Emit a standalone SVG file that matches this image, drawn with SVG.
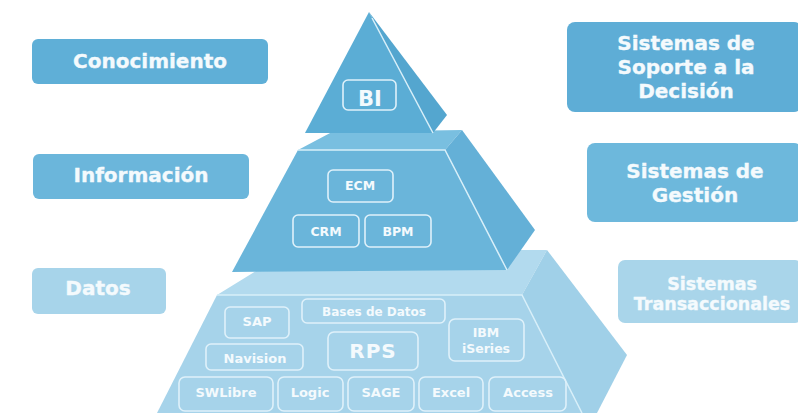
<svg xmlns="http://www.w3.org/2000/svg" width="798" height="413" viewBox="0 0 798 413">
<style>
.lbl{font-family:"DejaVu Sans",Verdana,sans-serif;font-weight:bold;fill:#f4fafd;stroke:#f4fafd;stroke-width:0.35;text-anchor:middle}
.ib{fill:none;stroke:#dff1fa;stroke-width:1.6}
.it{font-family:"DejaVu Sans",Verdana,sans-serif;font-weight:bold;fill:#f4fafd;text-anchor:middle}
.edge{fill:none;stroke:#d8eff9;stroke-width:1.5}
</style>
<rect width="798" height="413" fill="#ffffff"/>
<g id="label-conocimiento"><rect x="32" y="39" width="236" height="45" rx="6" fill="#5fafd7"/><text class="lbl" x="150" y="68" font-size="20">Conocimiento</text></g>
<g id="label-informacion"><rect x="33" y="154" width="216" height="45" rx="6" fill="#6bb6db"/><text class="lbl" x="141" y="182" font-size="20">Información</text></g>
<g id="label-datos"><rect x="32" y="268" width="134" height="46" rx="6" fill="#a7d4ea"/><text class="lbl" x="98" y="295" font-size="20">Datos</text></g>
<g id="label-dss"><rect x="567" y="22" width="235" height="90" rx="8" fill="#5eadd6"/><text class="lbl" font-size="20"><tspan x="686" y="50">Sistemas de</tspan><tspan x="686" y="74">Soporte a la</tspan><tspan x="686" y="98">Decisión</tspan></text></g>
<g id="label-gestion"><rect x="587" y="143" width="215" height="79" rx="8" fill="#6db8dc"/><text class="lbl" font-size="20"><tspan x="695" y="178">Sistemas de</tspan><tspan x="695" y="202">Gestión</tspan></text></g>
<g id="label-transaccionales"><rect x="618" y="260" width="184" height="63" rx="7" fill="#a9d5ea"/><text class="lbl" font-size="17.5"><tspan x="712" y="290">Sistemas</tspan><tspan x="712" y="310">Transaccionales</tspan></text></g>

<g id="tier-datos">
<polygon points="217,295 522,295 547,250 290,250" fill="#b2daee"/>
<polygon points="522,295 547,250 627,355 597,413 582,413" fill="#a0d0e8"/>
<polygon points="217,295 522,295 582,413 157,413" fill="#a6d3ea"/>
<polyline class="edge" points="217,295 522,295 582,413"/>
<rect class="ib" x="225" y="307" width="64" height="31" rx="5"/><text class="it" x="257" y="326" font-size="13">SAP</text>
<rect class="ib" x="302" y="299" width="143" height="24" rx="5"/><text class="it" x="374" y="316" font-size="12">Bases de Datos</text>
<rect class="ib" x="449" y="319" width="75" height="42" rx="6"/><text class="it" font-size="12.5"><tspan x="486" y="337">IBM</tspan><tspan x="486" y="353">iSeries</tspan></text>
<rect class="ib" x="206" y="344" width="97" height="26" rx="5"/><text class="it" x="255" y="363" font-size="13">Navision</text>
<rect class="ib" x="328" y="332" width="90" height="38" rx="6"/><text class="it" x="373" y="358" font-size="20" letter-spacing="1">RPS</text>
<rect class="ib" x="179" y="377" width="94" height="34" rx="6"/><text class="it" x="226" y="397" font-size="13">SWLibre</text>
<rect class="ib" x="278" y="377" width="65" height="34" rx="6"/><text class="it" x="310" y="397" font-size="13">Logic</text>
<rect class="ib" x="348" y="377" width="66" height="34" rx="6"/><text class="it" x="381" y="397" font-size="13">SAGE</text>
<rect class="ib" x="419" y="377" width="64" height="34" rx="6"/><text class="it" x="451" y="397" font-size="13">Excel</text>
<rect class="ib" x="489" y="377" width="77" height="34" rx="6"/><text class="it" x="528" y="397" font-size="13">Access</text>
</g>

<g id="tier-informacion">
<polygon points="298,150 445,150 462,130 332,132" fill="#79bfe0"/>
<polygon points="445,150 462,130 535,230 507,270" fill="#64b0d7"/>
<polygon points="298,150 445,150 507,270 232,272" fill="#6ab5da"/>
<polyline class="edge" points="298,150 445,150 507,270"/>
<rect class="ib" x="328" y="170" width="65" height="32" rx="5"/><text class="it" x="360" y="190" font-size="12.5">ECM</text>
<rect class="ib" x="293" y="215" width="66" height="32" rx="5"/><text class="it" x="326" y="236" font-size="12.5">CRM</text>
<rect class="ib" x="365" y="215" width="66" height="32" rx="5"/><text class="it" x="398" y="236" font-size="12.5">BPM</text>
</g>

<g id="tier-conocimiento">
<polygon points="369,12 447,115 433,133" fill="#54a6cf"/>
<polygon points="369,12 305,133 433,133" fill="#5badd5"/>
<line class="edge" x1="372" y1="18" x2="433" y2="133"/>
<rect class="ib" x="343" y="80" width="53" height="30" rx="5"/><text class="it" x="370" y="106" font-size="21">BI</text>
</g>
<g id="connectors"/>
</svg>
